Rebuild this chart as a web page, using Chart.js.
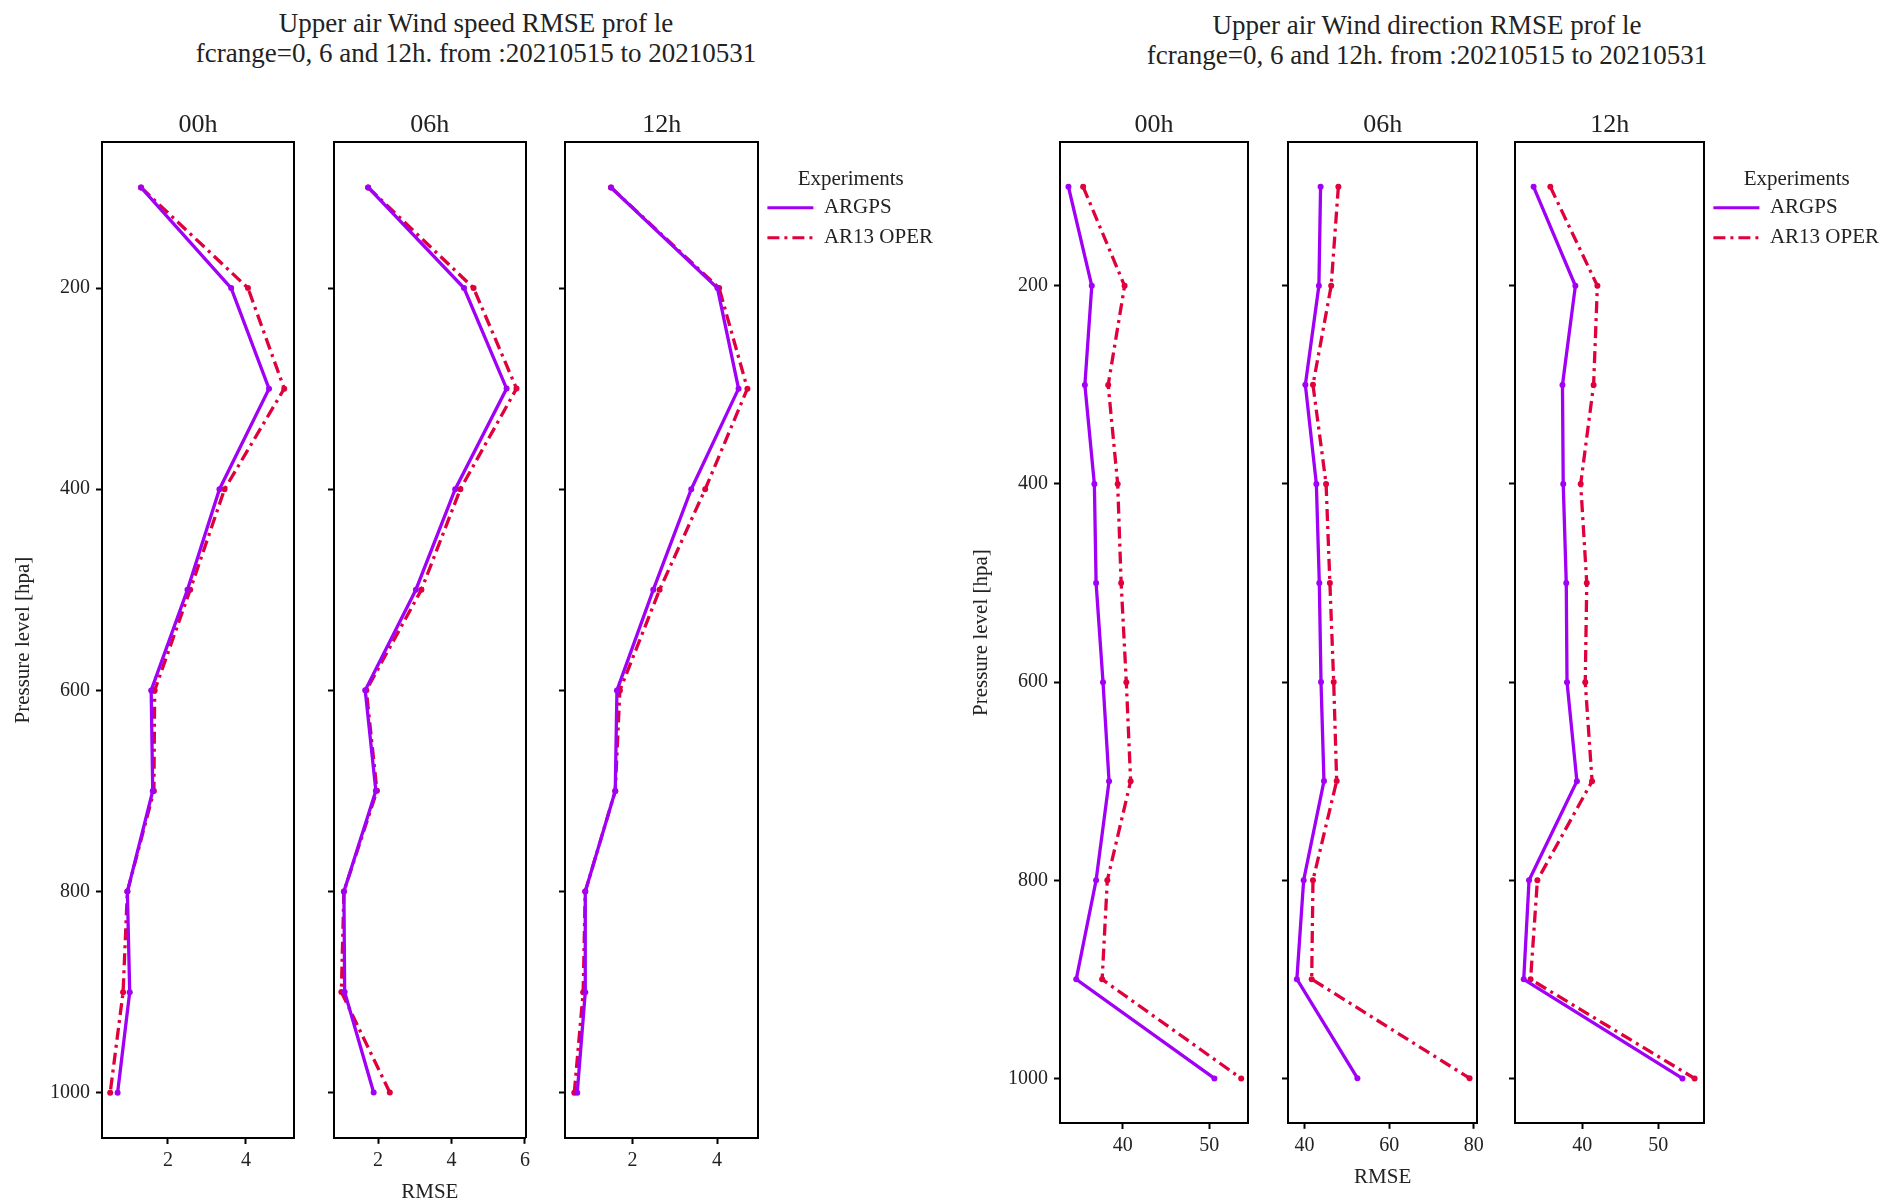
<!DOCTYPE html>
<html>
<head>
<meta charset="utf-8">
<title>Upper air RMSE profiles</title>
<script src="https://cdn.jsdelivr.net/npm/chart.js@4.4.0/dist/chart.umd.min.js"></script>
<style>
  html, body { margin: 0; padding: 0; background: #fff; }
  body { width: 1882px; height: 1198px; position: relative; overflow: hidden;
         font-family: 'Liberation Serif', serif; color: #222; }
  canvas { position: absolute; }
  .sup { position: absolute; text-align: center; font-size: 27px; line-height: 30px;
         white-space: nowrap; transform: translateX(-50%); }
</style>
</head>
<body>
<div class="sup" style="left:476px; top:8px;">Upper air Wind speed RMSE prof le<br>fcrange=0, 6 and 12h. from :20210515 to 20210531</div>
<div class="sup" style="left:1427px; top:10px;">Upper air Wind direction RMSE prof le<br>fcrange=0, 6 and 12h. from :20210515 to 20210531</div>

<canvas id="speed00" width="300" height="1100"></canvas>
<canvas id="speed06" width="300" height="1100"></canvas>
<canvas id="speed12" width="400" height="1100"></canvas>
<canvas id="dir00" width="300" height="1100"></canvas>
<canvas id="dir06" width="300" height="1100"></canvas>
<canvas id="dir12" width="400" height="1100"></canvas>

<script>
// pressure levels (hPa)
const levels = [100, 200, 300, 400, 500, 600, 700, 800, 900, 1000]
const panelTitles = ["00h", "06h", "12h"]
const seriesNames = ["ARGPS", "AR13 OPER"]

// wind speed RMSE
const speedArgps00 = [1.31, 3.62, 4.59, 3.32, 2.50, 1.57, 1.61, 0.96, 1.02, 0.71]
const speedOper00  = [1.31, 4.05, 4.98, 3.45, 2.57, 1.66, 1.64, 0.96, 0.85, 0.52]
const speedArgps06 = [1.73, 4.34, 5.50, 4.10, 3.03, 1.65, 1.94, 1.07, 1.09, 1.88]
const speedOper06  = [1.73, 4.60, 5.77, 4.24, 3.18, 1.68, 1.97, 1.07, 1.00, 2.32]
const speedArgps12 = [1.49, 4.01, 4.51, 3.39, 2.49, 1.63, 1.59, 0.88, 0.88, 0.69]
const speedOper12  = [1.49, 4.05, 4.72, 3.72, 2.64, 1.70, 1.59, 0.88, 0.83, 0.62]

// wind direction RMSE
const dirArgps00 = [33.7, 36.4, 35.6, 36.7, 36.9, 37.7, 38.4, 36.9, 34.6, 50.6]
const dirOper00  = [35.4, 40.2, 38.3, 39.4, 39.8, 40.4, 40.9, 38.2, 37.6, 53.7]
const dirArgps06 = [43.8, 43.4, 40.2, 42.8, 43.5, 43.9, 44.6, 39.8, 38.2, 52.5]
const dirOper06  = [48.0, 46.3, 42.0, 45.1, 46.0, 46.9, 47.6, 42.0, 41.7, 79.0]
const dirArgps12 = [33.6, 39.1, 37.4, 37.5, 37.9, 38.0, 39.3, 33.0, 32.3, 53.2]
const dirOper12  = [35.8, 42.0, 41.5, 39.8, 40.6, 40.4, 41.3, 34.1, 33.2, 54.8]

// axis limits and tick values
const yLimits = [55, 1045]
const yTicks = [200, 400, 600, 800, 1000]
const speedXLimits = [[0.31, 5.23], [0.80, 6.02], [0.40, 4.98]]
const speedXTicks = [[2, 4], [2, 4, 6], [2, 4]]
const dirXLimits = [[32.72, 54.49], [36.1, 80.83], [31.15, 56.09]]
const dirXTicks = [[40, 50], [40, 60, 80], [40, 50]]

const argpsColor = "#a000f5"
const operColor = "#e0003c"
const textColor = "#222"

Chart.defaults.font.family = "'Liberation Serif', 'Times New Roman', serif"
Chart.defaults.color = textColor

// plot boxes on the page (chart area of each panel)
const speedBoxes = [
  {x: 102, y: 142, w: 192, h: 996},
  {x: 334, y: 142, w: 192, h: 996},
  {x: 565, y: 142, w: 193, h: 996}
]
const dirBoxes = [
  {x: 1060, y: 142, w: 188, h: 981},
  {x: 1288, y: 142, w: 189, h: 981},
  {x: 1515, y: 142, w: 189, h: 981}
]

function fixedTicks(values) {
  return function(scale) { scale.ticks = values.map(v => ({value: v})) }
}

function panelConfig(title, argps, oper, xLim, xTicks, first, middle, withLegend) {
  return {
    type: "line",
    data: {
      datasets: [
        {
          label: seriesNames[0], xAxisID: "x", yAxisID: "y",
          data: levels.map((p, i) => ({x: argps[i], y: p})),
          borderColor: argpsColor, backgroundColor: argpsColor,
          borderWidth: 3.3, pointRadius: 3, pointBorderWidth: 0, tension: 0
        },
        {
          label: seriesNames[1], xAxisID: "x", yAxisID: "y",
          data: levels.map((p, i) => ({x: oper[i], y: p})),
          borderColor: operColor, backgroundColor: operColor,
          borderWidth: 3.3, borderDash: [12, 5, 3, 5], pointRadius: 3, pointBorderWidth: 0, tension: 0
        }
      ]
    },
    options: {
      responsive: false, maintainAspectRatio: false, animation: false, events: [],
      layout: {padding: 0},
      plugins: {
        tooltip: {enabled: false},
        title: {display: false},
        legend: withLegend ? {
          display: true, position: "right", align: "start", maxWidth: 260,
          title: {display: true, text: "Experiments", color: textColor,
                  font: {size: 21}, padding: {top: 59, bottom: -6}},
          labels: {
            usePointStyle: true, pointStyleWidth: 46, boxHeight: 20, padding: 9,
            color: textColor, font: {size: 21},
            generateLabels: function(chart) {
              return chart.data.datasets.map((ds, i) => ({
                text: ds.label, strokeStyle: ds.borderColor, fillStyle: ds.borderColor,
                lineWidth: 3, lineDash: ds.borderDash || [], pointStyle: "line",
                datasetIndex: i, hidden: false, fontColor: textColor
              }))
            }
          }
        } : {display: false}
      },
      scales: {
        x: {
          type: "linear", position: "bottom", min: xLim[0], max: xLim[1],
          afterBuildTicks: fixedTicks(xTicks),
          ticks: {font: {size: 20}, padding: 5, maxRotation: 0, callback: v => String(v)},
          grid: {display: true, drawOnChartArea: false, drawTicks: true, tickLength: 6, tickWidth: 2, tickColor: "#000"},
          border: {display: true, color: "#000", width: 2},
          title: {display: middle, text: "RMSE", font: {size: 21}, padding: {top: 2, bottom: 0}}
        },
        y: {
          type: "linear", position: "left", reverse: true, min: yLimits[0], max: yLimits[1],
          afterBuildTicks: fixedTicks(yTicks),
          afterFit: function(s) { if (first) s.width = 91 },
          ticks: {display: first, font: {size: 20}, padding: 6, callback: v => String(v)},
          grid: {display: true, drawOnChartArea: false, drawTicks: true, tickLength: 6, tickWidth: 2, tickColor: "#000"},
          border: {display: true, color: "#000", width: 2},
          title: {display: first, text: "Pressure level [hpa]", font: {size: 21}, padding: {top: 0, bottom: 13}}
        },
        // top frame line, carries the panel title
        x2: {
          axis: "x", position: "top", display: true,
          ticks: {display: false}, grid: {display: false, drawTicks: false},
          border: {display: true, color: "#000", width: 2},
          title: {display: true, text: title, color: textColor, font: {size: 26}, padding: {top: 0, bottom: 1}}
        },
        // right frame line
        y2: {
          axis: "y", position: "right", display: true,
          ticks: {display: false}, grid: {display: false, drawTicks: false},
          border: {display: true, color: "#000", width: 2},
          afterFit: function(s) { s.width = 0 }
        }
      }
    }
  }
}

// resize the canvas so that its chart area lands on the given box
function placeChart(chart, box) {
  for (let k = 0; k < 4; k++) {
    const a = chart.chartArea
    const w = Math.round(chart.width + box.w - (a.right - a.left))
    const h = Math.round(chart.height + box.h - (a.bottom - a.top))
    if (w === chart.width && h === chart.height) break
    chart.resize(w, h)
  }
  const a = chart.chartArea
  chart.canvas.style.left = (box.x - a.left) + "px"
  chart.canvas.style.top = (box.y - a.top) + "px"
}

const speedData = [[speedArgps00, speedOper00], [speedArgps06, speedOper06], [speedArgps12, speedOper12]]
const dirData = [[dirArgps00, dirOper00], [dirArgps06, dirOper06], [dirArgps12, dirOper12]]
const speedIds = ["speed00", "speed06", "speed12"]
const dirIds = ["dir00", "dir06", "dir12"]

for (let i = 0; i < 3; i++) {
  const c1 = new Chart(document.getElementById(speedIds[i]),
    panelConfig(panelTitles[i], speedData[i][0], speedData[i][1], speedXLimits[i], speedXTicks[i], i === 0, i === 1, i === 2))
  placeChart(c1, speedBoxes[i])

  const c2 = new Chart(document.getElementById(dirIds[i]),
    panelConfig(panelTitles[i], dirData[i][0], dirData[i][1], dirXLimits[i], dirXTicks[i], i === 0, i === 1, i === 2))
  placeChart(c2, dirBoxes[i])
}
</script>
</body>
</html>
